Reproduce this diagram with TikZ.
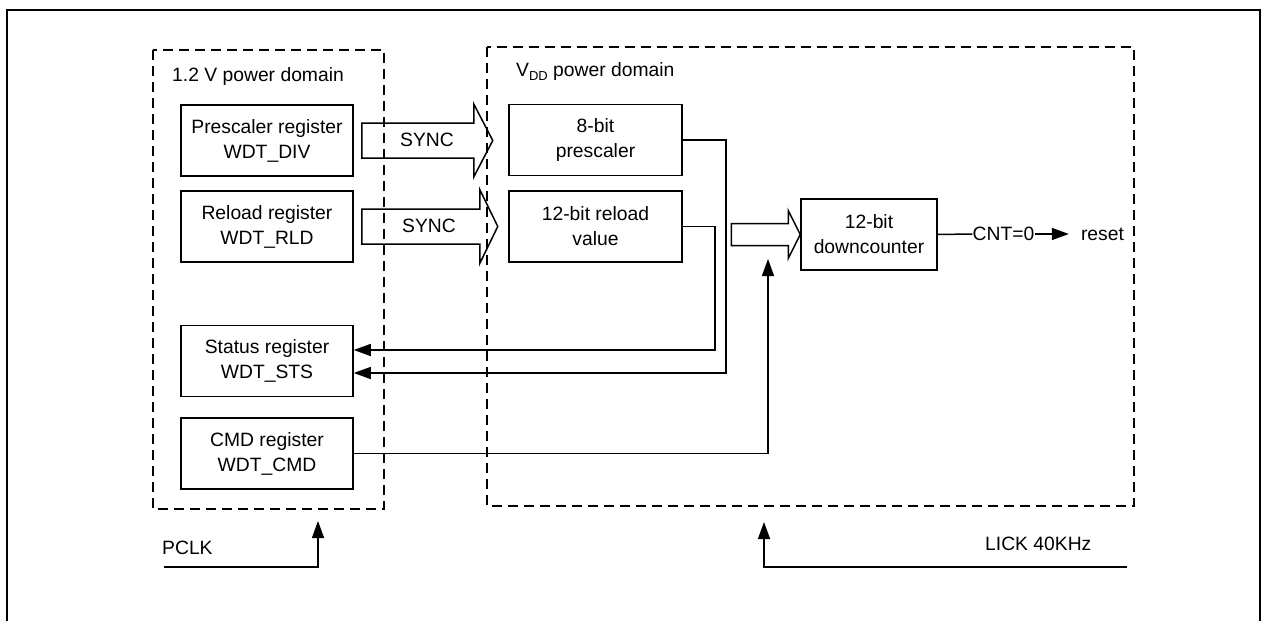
\documentclass[tikz,border=0pt]{standalone}
\usepackage{fontspec}
\setmainfont{Liberation Sans}
\usetikzlibrary{arrows.meta,calc}
\begin{document}
\begin{tikzpicture}[x=1pt,y=-1pt,
  lbl/.style={font=\fontsize{19.3}{25}\selectfont, inner sep=0pt},
  regbox/.style={draw, line width=1.5pt, fill=white, align=center, inner sep=0pt,
    minimum width=172pt, minimum height=71pt, font=\fontsize{19.3}{25}\selectfont},
  pdomain/.style={draw, line width=1.5pt, dash pattern=on 10pt off 6pt},
  wire/.style={line width=1.5pt},
  arr/.style={wire, -{Triangle[length=17pt,width=12pt]}},
  hollow/.style={draw, line width=1.5pt, line join=miter}
]
\useasboundingbox (0,0) rectangle (1267,621);
\draw[line width=2.5pt] (7,625) -- (7,10) -- (1260,10) -- (1260,625);

% power domains
\draw[pdomain] (153,50) rectangle (384,509);
\node[lbl, anchor=west] (d12) at (172,77) {1.2 V power domain};
\draw[pdomain] (487,47) rectangle (1134,506);
\node[lbl, anchor=west] (dvdd) at (516,72) {V\raisebox{-0.35ex}{\fontsize{13}{13}\selectfont DD} power domain};

% registers
\node[regbox] (div) at (267,140.5) {Prescaler register\\WDT\_DIV};
\node[regbox] (rld) at (267,226.5) {Reload register\\WDT\_RLD};
\node[regbox] (sts) at (267,361) {Status register\\WDT\_STS};
\node[regbox] (cmd) at (267,453.5) {CMD register\\WDT\_CMD};
\node[regbox, minimum width=173pt] (psc) at (595.5,140) {8-bit\\prescaler};
\node[regbox, minimum width=173pt] (rv) at (595.5,226.5) {12-bit reload\\value};
\node[regbox, minimum width=136pt] (cnt) at (869,234.5) {12-bit\\downcounter};

% hollow SYNC arrows
\draw[hollow] ($(div.east)+(8,-17.5)$) -- ++(112,0) -- ++(0,-19) -- ($(div.east)+(139,0)$)
  -- ($(div.east)+(120,36.5)$) -- ++(0,-19) -- ($(div.east)+(8,17.5)$) -- cycle;
\node[lbl] (sync1) at (427,140) {SYNC};
\draw[hollow] ($(rld.east)+(8,-17.5)$) -- ++(118,0) -- ++(0,-19.5) -- ($(rld.east)+(144,0)$)
  -- ($(rld.east)+(126,37)$) -- ++(0,-19.5) -- ($(rld.east)+(8,17.5)$) -- cycle;
\node[lbl] (sync2) at (429,226) {SYNC};
\draw[hollow] ($(cnt.west)+(-69,-11)$) -- ++(57,0) -- ++(0,-13) -- (cnt.west)
  -- ($(cnt.west)+(-12,24)$) -- ++(0,-13) -- ($(cnt.west)+(-69,11)$) -- cycle;

% wires
\draw[arr] (rv.east) -- ++(32,0) |- ($(sts.east)+(0,-11)$);
\draw[arr] (psc.east) -- ++(43,0) |- ($(sts.east)+(0,12)$);
\coordinate (cmdtip) at (768,259);
\draw[arr] (cmd.east) -| (cmdtip);

\node[lbl] (cnt0) at (1003.5,234) {CNT=0};
\node[lbl] (reset) at (1102.5,234) {reset};
\draw[wire] (cnt.east) -- (cnt0.west);
\draw[arr] (cnt0.east) -- ($(reset.west)+(-12,0)$);

% clocks
\node[lbl, anchor=west] (pclk) at (162,548) {PCLK};
\coordinate (pclkS) at (164,567);
\coordinate (pclkT) at (318,521);
\draw[arr] (pclkS) -| (pclkT);
\node[lbl, anchor=west] (lick) at (985,544) {LICK 40KHz};
\coordinate (lickS) at (1127,567);
\coordinate (lickT) at (764,522);
\draw[arr] (lickS) -| (lickT);
\end{tikzpicture}
\end{document}
